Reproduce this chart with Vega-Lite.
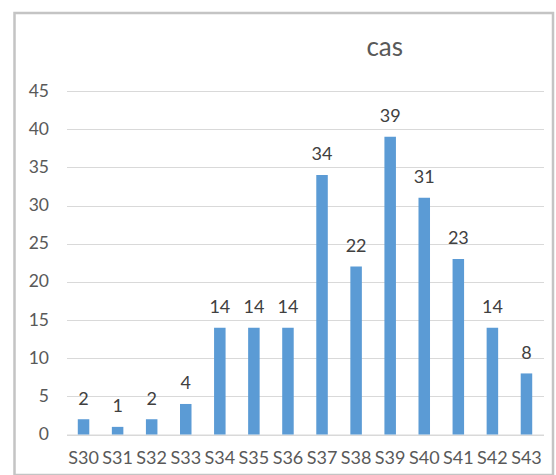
{
  "$schema": "https://vega.github.io/schema/vega-lite/v6.json",
  "width": 538.5,
  "height": 462,
  "padding": {"left": 14.5, "top": 13, "right": 3, "bottom": 0},
  "autosize": {"type": "none"},
  "background": "white",
  "config": {
    "view": {"stroke": "#c4c4c4", "strokeWidth": 2.5},
    "font": "Lato"
  },
  "title": {
    "text": "cas",
    "fontSize": 26,
    "fontWeight": "normal",
    "color": "#595959",
    "font": "Lato",
    "anchor": "middle",
    "frame": "group",
    "baseline": "alphabetic",
    "offset": -43,
    "dx": 101,
    "dy": 26
  },
  "data": {
    "values": [
      {"week": "S30", "cas": 2},
      {"week": "S31", "cas": 1},
      {"week": "S32", "cas": 2},
      {"week": "S33", "cas": 4},
      {"week": "S34", "cas": 14},
      {"week": "S35", "cas": 14},
      {"week": "S36", "cas": 14},
      {"week": "S37", "cas": 34},
      {"week": "S38", "cas": 22},
      {"week": "S39", "cas": 39},
      {"week": "S40", "cas": 31},
      {"week": "S41", "cas": 23},
      {"week": "S42", "cas": 14},
      {"week": "S43", "cas": 8}
    ]
  },
  "encoding": {
    "x": {
      "field": "week",
      "type": "nominal",
      "sort": null,
      "scale": {"range": [52, 529], "paddingInner": 0.662, "paddingOuter": 0.331},
      "axis": {
        "title": null,
        "orient": "bottom",
        "offset": -40.5,
        "ticks": false,
        "domain": true,
        "domainColor": "#d9d9d9",
        "domainWidth": 1,
        "labelAngle": 0,
        "labelPadding": 15,
        "labelFont": "Lato",
        "labelFontSize": 18,
        "labelColor": "#595959",
        "grid": false
      }
    },
    "y": {
      "field": "cas",
      "type": "quantitative",
      "scale": {"domain": [0, 45], "range": [421.5, 78], "nice": false, "zero": true},
      "axis": {
        "title": null,
        "orient": "left",
        "offset": -52,
        "values": [0, 5, 10, 15, 20, 25, 30, 35, 40, 45],
        "ticks": false,
        "domain": false,
        "grid": true,
        "gridColor": "#d9d9d9",
        "gridWidth": 1,
        "labelPadding": 18,
        "labelFont": "Lato",
        "labelFontSize": 17.5,
        "labelColor": "#595959"
      }
    }
  },
  "layer": [
    {"mark": {"type": "bar", "color": "#5B9BD5"}},
    {
      "mark": {"type": "text", "baseline": "alphabetic", "dy": -14.5, "fontSize": 18, "color": "#404040", "font": "Lato"},
      "encoding": {"text": {"field": "cas", "type": "quantitative"}}
    }
  ]
}
